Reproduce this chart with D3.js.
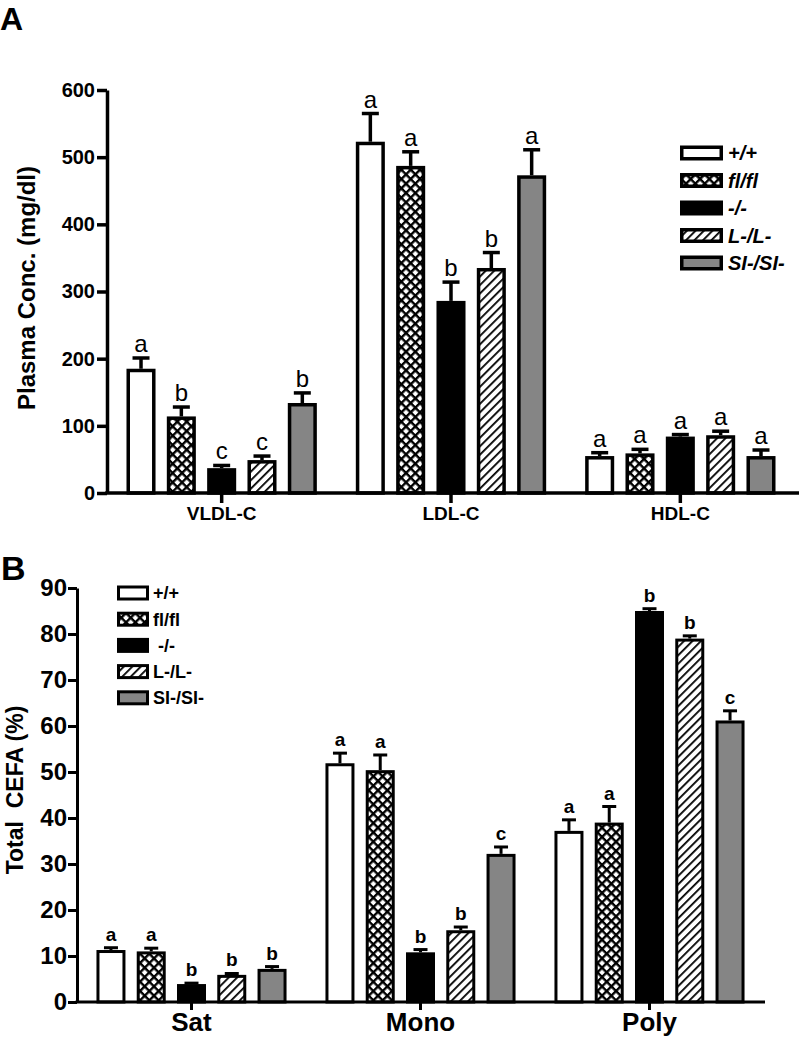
<!DOCTYPE html>
<html><head><meta charset="utf-8">
<script src="https://cdn.jsdelivr.net/npm/d3@7/dist/d3.min.js"></script>
<style>
body{margin:0;background:#fff;}
svg{display:block;font-family:"Liberation Sans",Arial,sans-serif;}
</style></head>
<body><svg id="chart" width="800" height="1040"></svg>
<script>
// ---------- DATA ----------
const series = ["+/+", "fl/fl", "-/-", "L-/L-", "SI-/SI-"];
const legendLabelsA = ["+/+", "fl/fl", "-/-", "L-/L-", "SI-/SI-"];
const legendLabelsB = ["+/+", "fl/fl", "\u00a0-/-", "L-/L-", "SI-/SI-"];

const groupsA = ["VLDL-C", "LDL-C", "HDL-C"];
const valuesA = [[185, 114, 37, 49, 134], [523, 487, 286, 335, 473], [55, 59, 84, 86, 55]];
const errorsA = [[16, 14, 4, 6, 15], [42, 21, 28, 23, 38], [5, 6, 3, 6, 9]];
const lettersA = [["a", "b", "c", "c", "b"], ["a", "a", "b", "b", "a"], ["a", "a", "a", "a", "a"]];
const ticksA = [0, 100, 200, 300, 400, 500, 600];

const groupsB = ["Sat", "Mono", "Poly"];
const valuesB = [[11.3, 11.0, 3.9, 5.9, 7.2], [51.9, 50.4, 10.8, 15.6, 32.2], [37.2, 39.0, 85.0, 79.0, 61.2]];
const errorsB = [[0.5, 0.7, 0.2, 0.3, 0.5], [2.2, 3.3, 0.6, 0.7, 1.5], [2.4, 3.5, 0.5, 0.6, 2.1]];
const lettersB = [["a", "a", "b", "b", "b"], ["a", "a", "b", "b", "c"], ["a", "a", "b", "b", "c"]];
const ticksB = [0, 10, 20, 30, 40, 50, 60, 70, 80, 90];

// ---------- STYLE ----------
const GRAY = "#858585";
const fills = ["#ffffff", "url(#xhatch)", "#000000", "url(#dhatch)", GRAY];
const svg = d3.select("#chart");
const FONT = '"Liberation Sans",Arial,sans-serif';

const defs = svg.append("defs");
const xh = defs.append("pattern").attr("id", "xhatch").attr("patternUnits", "userSpaceOnUse")
  .attr("width", 6.6).attr("height", 6.6).attr("patternTransform", "rotate(45)");
xh.append("rect").attr("width", 6.6).attr("height", 6.6).attr("fill", "#fff");
xh.append("rect").attr("x", 0).attr("y", 0).attr("width", 2.4).attr("height", 6.6).attr("fill", "#000");
xh.append("rect").attr("x", 0).attr("y", 0).attr("width", 6.6).attr("height", 2.4).attr("fill", "#000");
const dh = defs.append("pattern").attr("id", "dhatch").attr("patternUnits", "userSpaceOnUse")
  .attr("width", 6).attr("height", 6).attr("patternTransform", "rotate(45)");
dh.append("rect").attr("width", 6).attr("height", 6).attr("fill", "#fff");
dh.append("rect").attr("x", 0).attr("y", 0).attr("width", 1.8).attr("height", 6).attr("fill", "#000");

function panel(cfg) {
  const g = svg.append("g");
  const y = d3.scaleLinear().domain(cfg.domain).range([cfg.y0, cfg.y1]);
  const x0 = d3.scaleBand().domain(cfg.groups).range([cfg.xa, cfg.xb]).paddingInner(0.17).paddingOuter(0.085);
  const x1 = d3.scaleBand().domain(series).range([0, x0.bandwidth()]).paddingInner(0.28).paddingOuter(0);
  const sw = cfg.sw;

  cfg.groups.forEach((grp, gi) => {
    series.forEach((s, si) => {
      const v = cfg.values[gi][si], e = cfg.errors[gi][si];
      const cx = x0(grp) + x1(s) + x1.bandwidth() / 2;
      // error bar
      g.append("line").attr("x1", cx).attr("x2", cx).attr("y1", y(v)).attr("y2", y(v + e))
        .attr("stroke", "#000").attr("stroke-width", sw);
      g.append("line").attr("x1", cx - cfg.cap / 2).attr("x2", cx + cfg.cap / 2)
        .attr("y1", y(v + e)).attr("y2", y(v + e)).attr("stroke", "#000").attr("stroke-width", sw);
      // bar
      g.append("rect").attr("x", x0(grp) + x1(s) + sw / 2).attr("width", x1.bandwidth() - sw)
        .attr("y", y(v) + sw / 2).attr("height", y(0) - y(v) - sw / 2)
        .attr("fill", fills[si]).attr("stroke", "#000").attr("stroke-width", sw);
      // letter
      g.append("text").attr("x", cx).attr("y", y(v + e) - cfg.letterGap)
        .attr("text-anchor", "middle").attr("font-size", cfg.letterSize)
        .attr("font-weight", cfg.letterWeight).text(cfg.letters[gi][si]);
    });
  });

  // y axis
  const ya = g.append("g").attr("transform", `translate(${cfg.xa},0)`)
    .call(d3.axisLeft(y).tickValues(cfg.ticks).tickSizeInner(cfg.tick).tickSizeOuter(0).tickPadding(cfg.ypad));
  ya.selectAll("path,line").attr("stroke", "#000").attr("stroke-width", cfg.aw);
  ya.selectAll("text").attr("font-size", cfg.yFont).attr("font-weight", "bold").attr("font-family", FONT).attr("fill", "#000");
  // x axis
  const xa = g.append("g").attr("transform", `translate(0,${cfg.y0})`)
    .call(d3.axisBottom(x0).tickSizeInner(cfg.xtick).tickSizeOuter(0).tickPadding(cfg.xpad));
  xa.select("path").attr("d", `M${cfg.xa - cfg.aw / 2},0H${cfg.xEnd}`);
  xa.selectAll("path,line").attr("stroke", "#000").attr("stroke-width", cfg.aw);
  xa.selectAll("text").attr("font-size", cfg.xFont).attr("font-weight", "bold").attr("font-family", FONT).attr("fill", "#000");

  // y title
  g.append("text").attr("transform", `translate(${cfg.titleX},${cfg.titleY}) rotate(-90)`)
    .attr("text-anchor", "middle").attr("font-size", cfg.titleSize).attr("font-weight", "bold")
    .attr("xml:space", "preserve").style("white-space", "pre").text(cfg.title);
  // panel letter
  g.append("text").attr("x", cfg.pl[0]).attr("y", cfg.pl[1]).attr("font-size", cfg.plSize)
    .attr("font-weight", "bold").text(cfg.plText);

  // legend
  const L = cfg.legend;
  series.forEach((s, si) => {
    const cy = L.y + si * L.dy;
    g.append("rect").attr("x", L.x + L.sw / 2).attr("y", cy - L.h / 2 + L.sw / 2)
      .attr("width", L.w - L.sw).attr("height", L.h - L.sw)
      .attr("fill", fills[si]).attr("stroke", "#000").attr("stroke-width", L.sw);
    g.append("text").attr("x", L.x + L.w + L.gap).attr("y", cy).attr("dy", "0.36em")
      .attr("font-size", L.font).attr("font-weight", "bold").attr("font-style", L.style)
      .text(L.labels[si]);
  });
}

panel({
  groups: groupsA, values: valuesA, errors: errorsA, letters: lettersA, ticks: ticksA,
  domain: [0, 600], y0: 493, y1: 90, xa: 107, xb: 795, xEnd: 799,
  sw: 3.5, aw: 3.5, cap: 17, tick: 10, ypad: 2, xtick: 10, xpad: 4,
  letterSize: 24, letterWeight: "normal", letterGap: 6,
  yFont: 20, xFont: 19,
  title: "Plasma Conc. (mg/dl)", titleX: 35, titleY: 288, titleSize: 24,
  pl: [0, 30], plSize: 32, plText: "A",
  legend: { x: 680, y: 153, dy: 27.5, w: 43, h: 15, sw: 3.5, gap: 5, font: 20, style: "italic", labels: legendLabelsA }
});

panel({
  groups: groupsB, values: valuesB, errors: errorsB, letters: lettersB, ticks: ticksB,
  domain: [0, 90], y0: 1002, y1: 588, xa: 77, xb: 764, xEnd: 765,
  sw: 3, aw: 3, cap: 14, tick: 9, ypad: 1, xtick: 8, xpad: 3,
  letterSize: 19, letterWeight: "bold", letterGap: 7,
  yFont: 24, xFont: 26,
  title: "Total  CEFA (%)", titleX: 23, titleY: 790, titleSize: 23,
  pl: [1, 580], plSize: 34, plText: "B",
  legend: { x: 117, y: 593, dy: 26.2, w: 32, h: 15, sw: 3, gap: 4, font: 18, style: "normal", labels: legendLabelsB }
});
</script></body></html>
